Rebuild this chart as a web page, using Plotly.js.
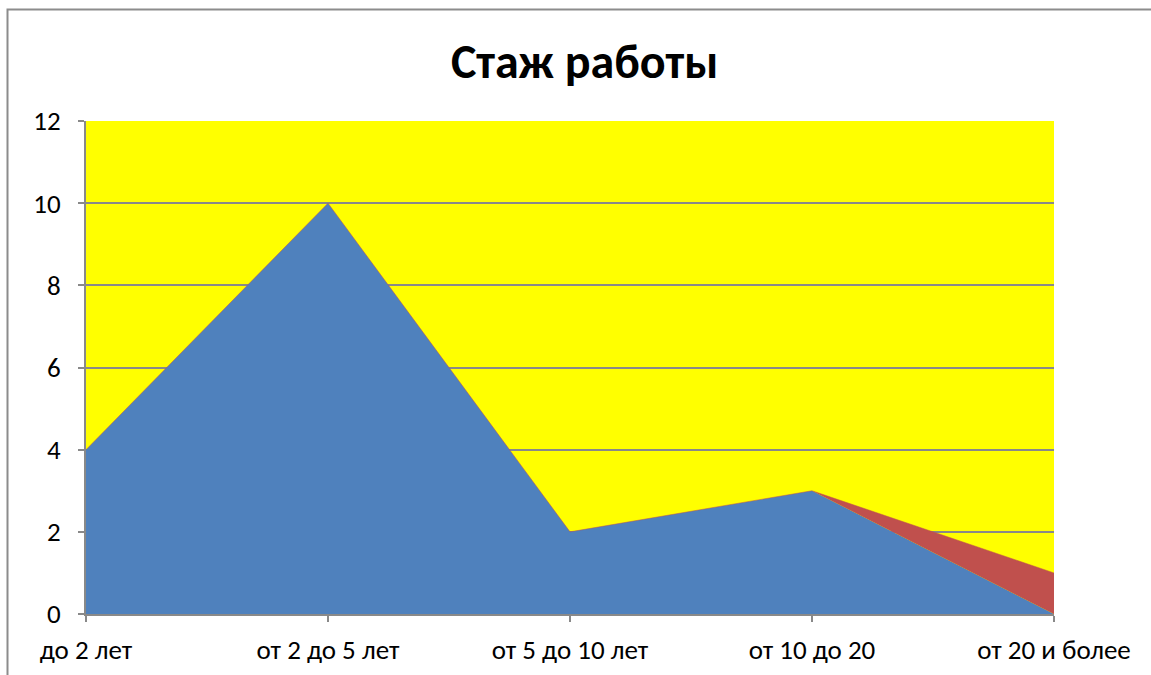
<!DOCTYPE html>
<html>
<head>
<meta charset="utf-8">
<script src="https://cdn.plot.ly/plotly-3.0.1.min.js"></script>
<style>html,body{margin:0;padding:0;background:#fff;}#chart{width:1151px;height:675px;}</style>
</head>
<body>
<div id="chart"></div>
<script>
const categories = ["до 2 лет", "от 2 до 5 лет", "от 5 до 10 лет", "от 10 до 20", "от 20 и более"];
const series1 = [4, 10, 2, 3, 0];
const series2 = [0, 0, 0, 0, 1];
const yTicks = [0, 2, 4, 6, 8, 10, 12];

const xIdx = categories.map((c, i) => i);

const traces = [
  {x: xIdx, y: series1, type: 'scatter', mode: 'lines', stackgroup: 'one',
   line: {width: 0, color: '#4F81BD'}, fillcolor: '#4F81BD', hoverinfo: 'y', name: 'Ряд1'},
  {x: xIdx, y: series2, type: 'scatter', mode: 'lines', stackgroup: 'one',
   line: {width: 0.5, color: '#C0504D'}, fillcolor: '#C0504D', hoverinfo: 'y', name: 'Ряд2'}
];

const fontFam = 'Carlito, "Liberation Sans", "Open Sans", sans-serif';
const layout = {
  width: 1151, height: 675,
  margin: {l: 86, r: 97, t: 121, b: 61},
  paper_bgcolor: '#ffffff',
  plot_bgcolor: '#FFFF00',
  showlegend: false,
  title: {text: '<b>Стаж работы</b>', font: {family: fontFam, size: 48, color: '#000'},
          x: 0.508, xanchor: 'center', y: 0.91, yanchor: 'middle'},
  xaxis: {
    range: [0, 4], tickmode: 'array', tickvals: xIdx, ticktext: categories,
    showgrid: false, zeroline: false, showline: true, linecolor: '#898989', linewidth: 2,
    ticks: 'outside', ticklen: 6, tickcolor: '#898989', tickwidth: 2, ticklabelstandoff: 5,
    tickfont: {family: fontFam, size: 27, color: '#000'}, fixedrange: true
  },
  yaxis: {
    range: [0, 12], tickmode: 'array', tickvals: yTicks,
    showgrid: true, gridcolor: '#898989', gridwidth: 2,
    zeroline: false, showline: true, linecolor: '#898989', linewidth: 2,
    ticks: 'outside', ticklen: 6, tickcolor: '#898989', tickwidth: 2, ticklabelstandoff: 12,
    tickfont: {family: fontFam, size: 27, color: '#000'}, fixedrange: true
  },
  shapes: [
    {type: 'rect', xref: 'paper', yref: 'paper',
     x0: (7.5 - 86) / 968, x1: 1.3, y0: -0.3, y1: (614 - 9.5) / 493,
     line: {color: '#8c8c8c', width: 2}, fillcolor: 'rgba(0,0,0,0)', layer: 'below'}
  ]
};

Plotly.newPlot('chart', traces, layout, {displayModeBar: false, staticPlot: true});
</script>
</body>
</html>
